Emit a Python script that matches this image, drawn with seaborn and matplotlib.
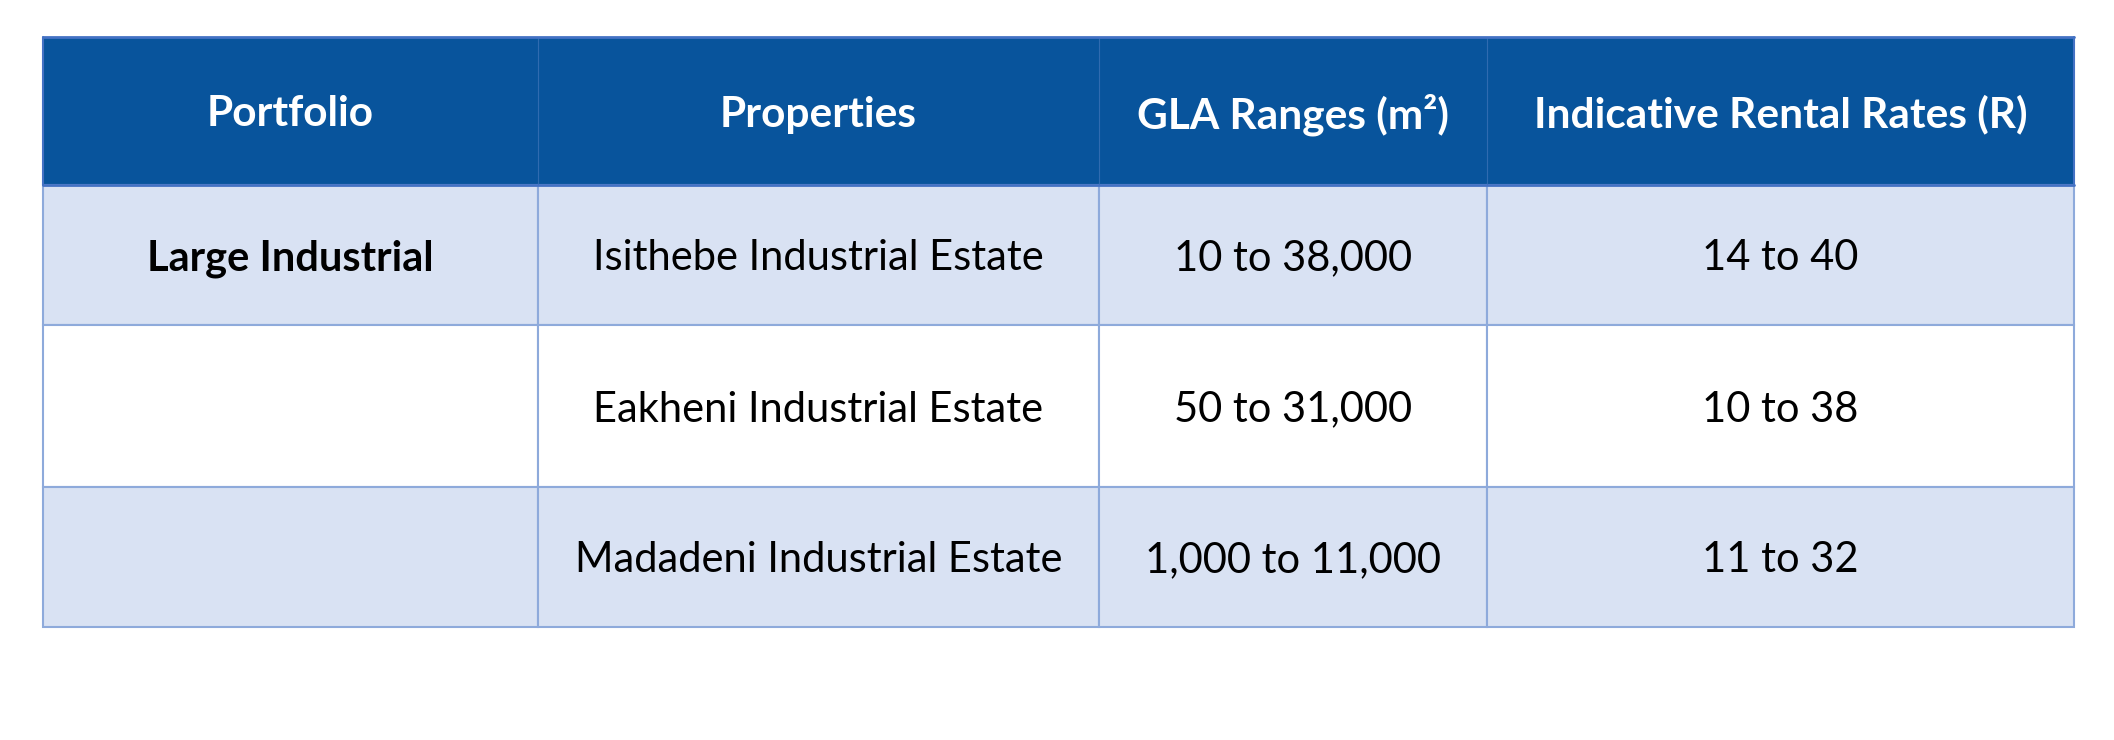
import seaborn as sns
from matplotlib import pyplot as plt

# table content
headers = ['Portfolio', 'Properties', 'GLA Ranges (m²)', 'Indicative Rental Rates (R)']
portfolio = ['Large Industrial', '', '']
properties = ['Isithebe Industrial Estate', 'Eakheni Industrial Estate', 'Madadeni Industrial Estate']
gla_ranges = ['10 to 38,000', '50 to 31,000', '1,000 to 11,000']
rental_rates = ['14 to 40', '10 to 38', '11 to 32']

# layout in pixels
col_edges = [43, 538, 1099, 1487, 2074]
row_edges = [37, 185, 325, 487, 627]

HEADER_BLUE = '#08549c'
ROW_SHADE = '#d9e2f3'
GRID_BLUE = '#8eaadb'
EDGE_BLUE = '#4472c4'

sns.set_theme(style='white')
plt.rcParams['font.family'] = ['Lato', 'DejaVu Sans']

fig = plt.figure(figsize=(21.14, 7.40), dpi=100)
ax = fig.add_axes([0, 0, 1, 1])
ax.set_xlim(0, 2114)
ax.set_ylim(740, 0)
ax.axis('off')

columns = [portfolio, properties, gla_ranges, rental_rates]
n_rows = len(properties)

lefts = col_edges[:-1]
widths = [b - a for a, b in zip(col_edges[:-1], col_edges[1:])]
centers = [(a + b) / 2 for a, b in zip(col_edges[:-1], col_edges[1:])]

# header band
ax.bar(col_edges[0], row_edges[1] - row_edges[0], width=col_edges[-1] - col_edges[0],
       bottom=row_edges[0], align='edge', color=HEADER_BLUE, linewidth=0, zorder=1)
for x in col_edges[1:-1]:
    ax.plot([x, x], [row_edges[0], row_edges[1]], color='#2f6bb0', lw=0.8, zorder=2)
for c, h in zip(centers, headers):
    ax.text(c, (row_edges[0] + row_edges[1]) / 2, h, ha='center', va='center_baseline',
            color='white', fontsize=30.5, fontweight='bold', zorder=3)

# body rows
for i in range(n_rows):
    top, bot = row_edges[i + 1], row_edges[i + 2]
    fill = ROW_SHADE if i % 2 == 0 else 'white'
    ax.bar(lefts, [bot - top] * len(lefts), width=widths, bottom=top, align='edge',
           color=fill, edgecolor=GRID_BLUE, linewidth=1.5, zorder=1)
    for j, col in enumerate(columns):
        ax.text(centers[j], (top + bot) / 2, col[i], ha='center', va='center_baseline',
                color='black', fontsize=30, fontweight='bold' if j == 0 else 'normal', zorder=3)

# outer lines
ax.plot([col_edges[0], col_edges[-1]], [row_edges[0], row_edges[0]], color=EDGE_BLUE, lw=2, zorder=4)
ax.plot([col_edges[0], col_edges[-1]], [row_edges[1], row_edges[1]], color=EDGE_BLUE, lw=2, zorder=4)
ax.plot([col_edges[0], col_edges[0]], [row_edges[0], row_edges[1]], color=EDGE_BLUE, lw=1.5, zorder=4)
ax.plot([col_edges[-1], col_edges[-1]], [row_edges[0], row_edges[1]], color=EDGE_BLUE, lw=1.5, zorder=4)

fig.savefig('out.png', dpi=100)
